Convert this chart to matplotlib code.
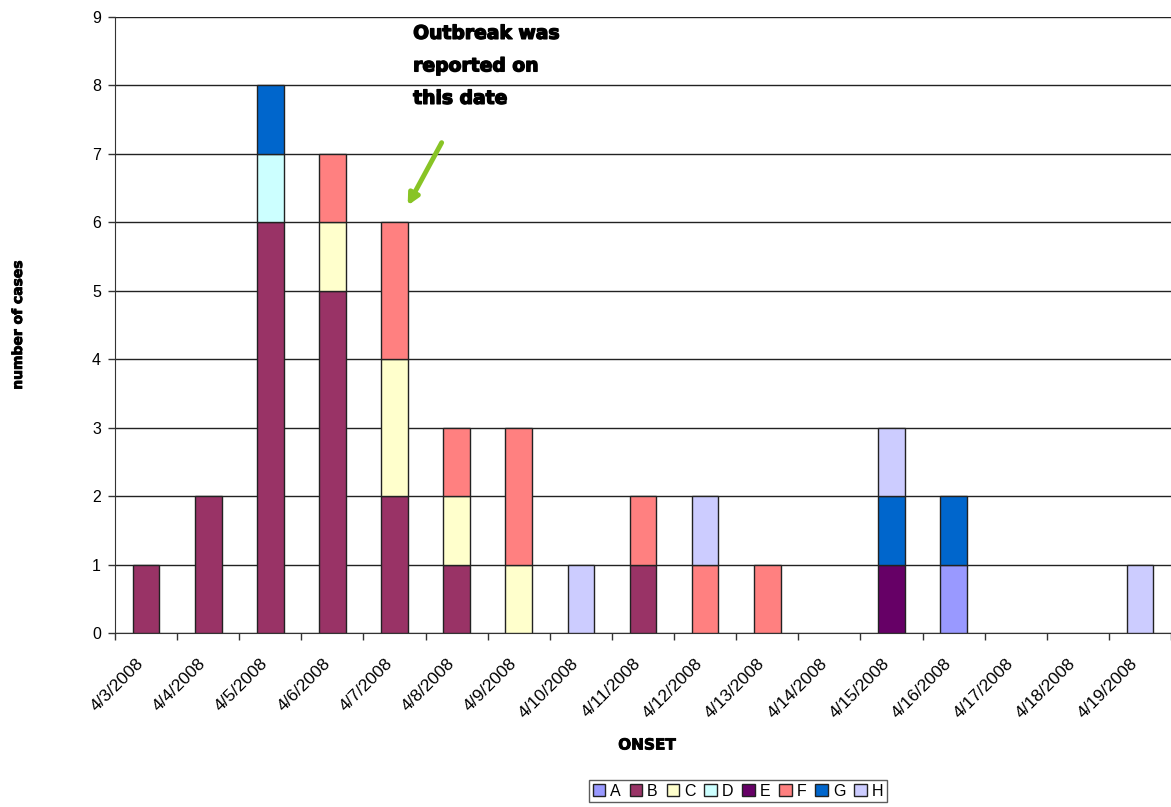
import matplotlib
matplotlib.use("Agg")
import matplotlib.pyplot as plt
from matplotlib.patches import Patch
from matplotlib.transforms import ScaledTranslation
import matplotlib.patheffects as pe
import numpy as np

dates = ["4/3/2008", "4/4/2008", "4/5/2008", "4/6/2008", "4/7/2008", "4/8/2008",
         "4/9/2008", "4/10/2008", "4/11/2008", "4/12/2008", "4/13/2008", "4/14/2008",
         "4/15/2008", "4/16/2008", "4/17/2008", "4/18/2008", "4/19/2008"]

series_names = ["A", "B", "C", "D", "E", "F", "G", "H"]
A = [0, 0, 0, 0, 0, 0, 0, 0, 0, 0, 0, 0, 0, 1, 0, 0, 0]
B = [1, 2, 6, 5, 2, 1, 0, 0, 1, 0, 0, 0, 0, 0, 0, 0, 0]
C = [0, 0, 0, 1, 2, 1, 1, 0, 0, 0, 0, 0, 0, 0, 0, 0, 0]
D = [0, 0, 1, 0, 0, 0, 0, 0, 0, 0, 0, 0, 0, 0, 0, 0, 0]
E = [0, 0, 0, 0, 0, 0, 0, 0, 0, 0, 0, 0, 1, 0, 0, 0, 0]
F = [0, 0, 0, 1, 2, 1, 2, 0, 1, 1, 1, 0, 0, 0, 0, 0, 0]
G = [0, 0, 1, 0, 0, 0, 0, 0, 0, 0, 0, 0, 1, 1, 0, 0, 0]
H = [0, 0, 0, 0, 0, 0, 0, 1, 0, 1, 0, 0, 1, 0, 0, 0, 1]
series_values = [A, B, C, D, E, F, G, H]
colors = ["#9999FF", "#993366", "#FFFFCC", "#CCFFFF", "#660066", "#FF8080", "#0066CC", "#CCCCFF"]

plt.rcParams['font.family'] = ['Liberation Sans', 'DejaVu Sans']

fig = plt.figure(figsize=(11.71, 8.07), dpi=100)
ax = fig.add_axes([115/1171, 1 - 633/807, 1 - 115/1171, (633 - 17)/807])

x = np.arange(len(dates))
bottom = np.zeros(len(dates))
for name, vals, c in zip(series_names, series_values, colors):
    v = np.array(vals, dtype=float)
    mask = v > 0
    ax.bar(x[mask], v[mask], width=0.43, bottom=bottom[mask], color=c,
           edgecolor="#222222", linewidth=1.0, zorder=3)
    bottom += v

ax.set_ylim(0, 9)
ax.set_xlim(-0.5, -0.5 + 1056/62.6)
ax.set_yticks(range(10))
ax.yaxis.grid(True, color="#222222", linewidth=1.0, zorder=0)
ax.tick_params(axis='y', labelsize=11.5, length=5, width=1, color="#333333", pad=5)

ax.set_xticks(np.arange(len(dates) + 1) - 0.5)
ax.set_xticklabels([])
ax.set_xticks(x, minor=True)
ax.set_xticklabels(dates, minor=True, rotation=45, ha='right', va='top',
                   rotation_mode='anchor', fontsize=12.5)
ax.tick_params(axis='x', which='major', length=5, width=1, color="#333333")
ax.tick_params(axis='x', which='minor', length=0, pad=13)
offset = ScaledTranslation(-10/100, -5/100, fig.dpi_scale_trans)
for lab in ax.get_xticklabels(minor=True):
    lab.set_transform(lab.get_transform() + offset)

for s in ['top', 'right']:
    ax.spines[s].set_visible(False)
ax.spines['left'].set_color("#333333")
ax.spines['bottom'].set_color("#333333")

fig.text(18/1171, 1 - 325/807, "number of cases", rotation=90, ha='center', va='center',
         fontsize=10, fontweight='bold', family='DejaVu Sans',
         path_effects=[pe.withStroke(linewidth=0.6, foreground='black')])
fig.text(647/1171, 1 - 745/807, "ONSET", ha='center', va='center',
         fontsize=11, fontweight='bold', family='DejaVu Sans',
         path_effects=[pe.withStroke(linewidth=0.6, foreground='black')])

ax.text(4.3, 8.9, "Outbreak was\nreported on\nthis date", ha='left', va='top',
        fontsize=13.5, fontweight='heavy', family='DejaVu Sans', linespacing=1.9,
        path_effects=[pe.withStroke(linewidth=1.0, foreground='black')])
ax.annotate("", xy=(4.19, 6.21), xytext=(4.78, 7.2),
            arrowprops=dict(arrowstyle='-|>', color="#88C425", lw=3.5,
                            mutation_scale=16))

handles = [Patch(facecolor=c, edgecolor="#222222", label=n) for n, c in zip(series_names, colors)]
leg = fig.legend(handles=handles, loc='center', bbox_to_anchor=(738/1171, 1 - 791/807),
                 ncol=8, fontsize=11.5, frameon=True, fancybox=False, handlelength=0.8,
                 handleheight=0.8, handletextpad=0.3, columnspacing=0.55,
                 borderpad=0.25, edgecolor="#333333")
leg.get_frame().set_linewidth(1.0)

fig.savefig("out.png", dpi=100)
